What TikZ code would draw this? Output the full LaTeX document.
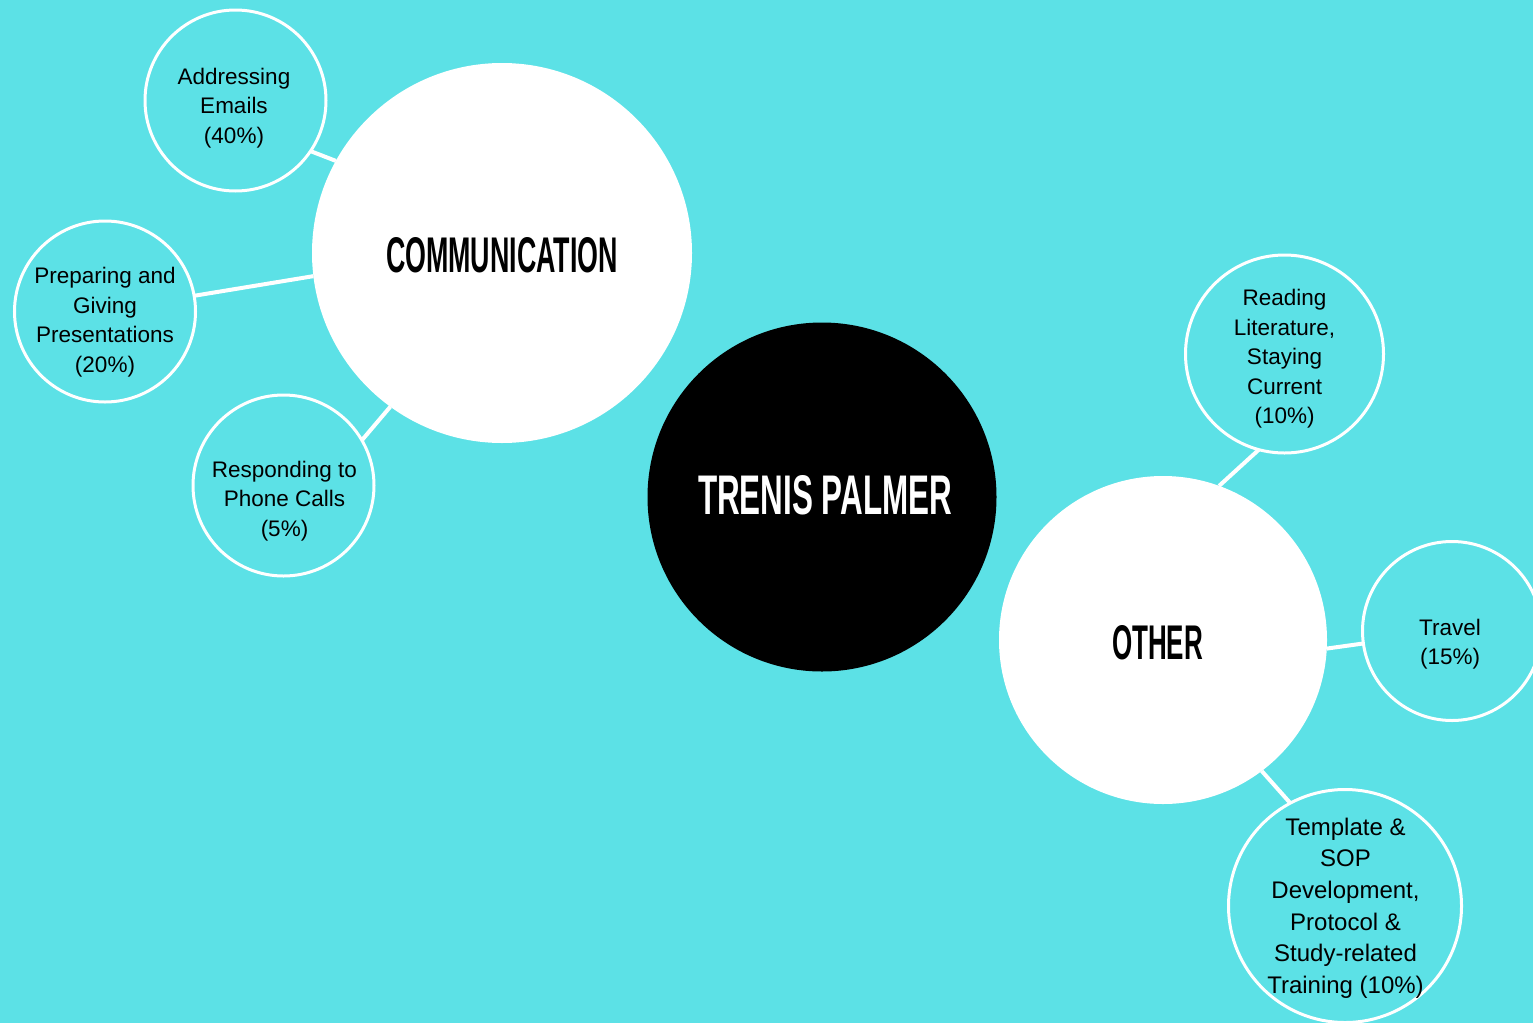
\documentclass[tikz,border=0pt]{standalone}
\usepackage{fontspec}
\setmainfont{Liberation Sans}
\usepackage{graphicx}
\definecolor{bg}{HTML}{5CE1E6}
\begin{document}
\begin{tikzpicture}[x=1pt,y=-1pt,
  big/.style={circle,fill=white,inner sep=0pt,outer sep=0pt},
  small/.style={circle,draw=white,line width=3pt,inner sep=0pt,outer sep=0pt},
  lbl/.style={align=center,font=\fontsize{22.5}{29.5}\selectfont,text=black,inner sep=0pt},
  biglbl/.style={font=\fontsize{24}{31.6}\selectfont,align=center,text=black,inner sep=0pt},
  title/.style={inner sep=0pt,font=\bfseries},
  link/.style={draw=white,line width=4pt}]
\useasboundingbox (0,0) rectangle (1533,1023);
\clip (0,0) rectangle (1533,1023);
\fill[bg] (0,0) rectangle (1533,1023);
% main circles
\node[big,minimum size=380pt] (comm) at (502,253) {};
\node[big,minimum size=328pt] (other) at (1163,640) {};
\node[circle,fill=black,inner sep=0pt,outer sep=0pt,minimum size=349pt] (center) at (822,497) {};
% small circles
\node[small,minimum size=181pt] (addr) at (235.5,100.5) {};
\node[small,minimum size=181pt] (prep) at (105,311.5) {};
\node[small,minimum size=181pt] (resp) at (283.5,485.5) {};
\node[small,minimum size=198pt] (read) at (1284.5,354) {};
\node[small,minimum size=179pt] (travel) at (1452,631) {};
\node[small,minimum size=233pt] (templ) at (1345,906) {};
% connectors
\draw[link] (addr.-34) -- (comm.151);
\draw[link] (prep.10) -- (comm.187);
\draw[link] (resp.30) -- (comm.234);
\draw[link] (read.255) -- (other.70);
\draw[link] (other.-3) -- (travel.188);
\draw[link] (other.-53) -- (templ.118);
% titles
\node[title] (commlbl) at (502,255.5) {\resizebox{232pt}{35pt}{COMMUNICATION}};
\node[title,text=white] (centerlbl) at (825,495.5) {\resizebox{254pt}{39pt}{TRENIS PALMER}};
\node[title] (otherlbl) at (1157.5,642.5) {\resizebox{91pt}{34pt}{OTHER}};
% labels
\node[lbl] (addrlbl) at (234,108) {Addressing\\Emails\\(40\%)};
\node[lbl] (preplbl) at (105,322) {Preparing and\\Giving\\Presentations\\(20\%)};
\node[lbl] (resplbl) at (284.5,501) {Responding to\\Phone Calls\\(5\%)};
\node[lbl] (readlbl) at (1284.5,359) {Reading\\Literature,\\Staying\\Current\\(10\%)};
\node[lbl] (travellbl) at (1450,644) {Travel\\(15\%)};
\node[biglbl] (templlbl) at (1345.5,908) {Template \&\\SOP\\Development,\\Protocol \&\\Study-related\\Training (10\%)};
\end{tikzpicture}
\end{document}
